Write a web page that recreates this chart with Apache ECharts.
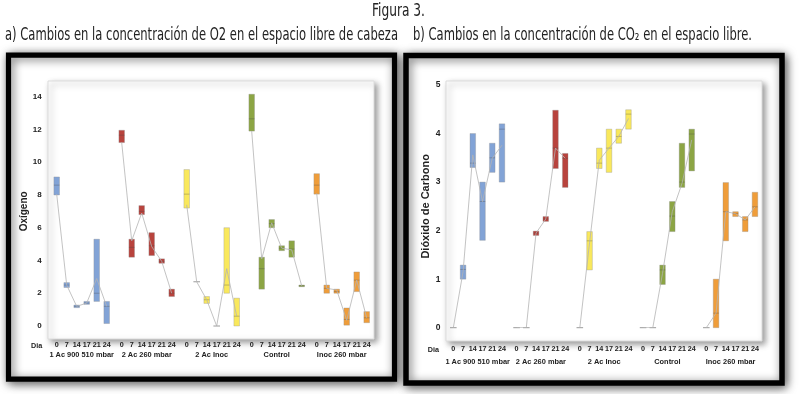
<!DOCTYPE html>
<html><head><meta charset="utf-8">
<script src="https://cdn.jsdelivr.net/npm/echarts@6/dist/echarts.min.js"></script>
<style>html,body{margin:0;padding:0;background:#fff}#c{width:800px;height:394px}</style>
</head><body><div id="c"></div>
<script>
// ---------- data ----------
const days = ['0','7','14','17','21','24'];
const groups = ['1 Ac 900 510 mbar','2 Ac 260 mbar','2 Ac Inoc','Control','Inoc 260 mbar'];
const groupColors = ['#82A3D6','#B8433D','#F9E85C','#8CA544','#EF9D3A'];

// Panel a: Oxígeno (30 values = 5 groups x 6 days)
const o2Low    = [8.0,2.35,1.12,1.32,1.5,0.15,  11.2,4.2,6.8,4.3,3.83,1.8,  7.2,2.7,1.38,0,2.0,0,      11.9,2.25,6.0,4.6,4.2,2.4,  8.05,2.0,2.0,0.05,2.1,0.2];
const o2High   = [9.1,2.65,1.28,1.5,5.3,1.5,   11.95,5.3,7.35,5.7,4.1,2.25, 9.55,2.7,1.8,0,6.0,1.7,    14.15,4.2,6.5,4.9,5.2,2.5,  9.3,2.5,2.25,1.1,3.3,0.88];
const o2Median = [8.6,2.5,1.2,1.4,2.0,1.2,     11.65,4.8,7.0,4.9,3.95,2.0,  8.05,2.7,1.6,0,2.5,0.6,    12.65,3.5,6.25,4.75,4.7,2.45, 8.6,2.3,2.1,0.4,2.8,0.5];
const o2Mean   = [8.05,2.5,1.2,1.4,2.9,1.2,    11.2,5.2,6.9,4.85,3.95,2.0,  7.4,2.7,1.6,0,3.5,0.6,     11.9,4.1,6.3,4.75,4.65,2.45, 8.1,2.3,2.2,0.35,2.8,0.5];

// Panel b: Dióxido de Carbono
const co2Low    = [0,1.0,3.3,1.8,3.2,3.0,   0,0,1.9,2.19,3.28,2.89,  0,1.19,3.28,3.2,3.8,4.09,  0,0,0.89,1.98,2.89,3.23,  0,0,1.79,2.29,1.98,2.29];
const co2High   = [0,1.29,4.0,3.0,3.8,4.2,  0,0,1.99,2.29,4.48,3.59, 0,1.98,3.7,4.09,4.09,4.49, 0,0,1.29,2.6,3.8,4.09,   0,1.0,2.99,2.39,2.29,2.79];
const co2Median = [0,1.2,3.39,2.6,3.5,4.09, 0,0,1.95,2.24,3.7,3.49,  0,1.79,3.39,3.7,3.94,4.4,  0,0,1.19,2.3,3.0,3.99,    0,0.3,2.39,2.35,2.22,2.49];
const co2Mean   = [0,1.15,3.56,2.6,3.49,3.76, 0,0,1.95,2.24,3.7,3.49, 0,1.75,3.45,3.7,3.94,4.31, 0,0,1.12,2.39,2.97,3.87, 0,0.3,2.39,2.35,2.22,2.49];

const titleMain = 'Figura 3.';
const titleA = 'a) Cambios en la concentración de O2 en el espacio libre de cabeza';
const titleB = 'b) Cambios en la concentración de CO\u2082 en el espacio libre.';
const yNameA = 'Oxígeno';
const yNameB = 'Dióxido de Carbono';
const dayAxisName = 'Dia';

// ---------- layout helpers ----------
const GAP = 6.5; // slot step between groups (in day-slot units)
function slotX(g, i) { return g * GAP + i; }
const dayLabelAt = {}, groupLabelAt = {};
groups.forEach((gn, g) => {
  days.forEach((d, i) => { dayLabelAt[Math.round(slotX(g, i) * 2)] = d; });
  groupLabelAt[Math.round((slotX(g, 0) + slotX(g, days.length - 1)) / 2 * 2)] = gn;
});

const NARROW = "'Liberation Sans Narrow','DejaVu Sans Condensed',sans-serif";
const SANS = "'Liberation Sans',Arial,sans-serif";
const measureCtx = document.createElement('canvas').getContext('2d');
function fitScale(text, font, target) {
  measureCtx.font = font;
  return target / measureCtx.measureText(text).width;
}

function boxRenderer(color) {
  return function (params, api) {
    const x = api.value(0), lo = api.value(1), hi = api.value(2), md = api.value(3);
    const pLo = api.coord([x, lo]), pHi = api.coord([x, hi]), pMd = api.coord([x, md]);
    const w = 5.6;
    const ch = [];
    if (Math.abs(pLo[1] - pHi[1]) < 1.2) {
      ch.push({type: 'line', shape: {x1: pLo[0] - w / 2 - 0.5, y1: (pLo[1] + pHi[1]) / 2, x2: pLo[0] + w / 2 + 0.5, y2: (pLo[1] + pHi[1]) / 2},
               style: {stroke: '#9a9a9a', lineWidth: 1}});
    } else {
      ch.push({type: 'rect', shape: {x: pHi[0] - w / 2, y: pHi[1], width: w, height: pLo[1] - pHi[1]},
               style: {fill: color, stroke: 'rgba(140,140,140,0.55)', lineWidth: 0.6}});
      ch.push({type: 'line', shape: {x1: pMd[0] - w / 2, y1: pMd[1], x2: pMd[0] + w / 2, y2: pMd[1]},
               style: {stroke: 'rgba(70,70,70,0.45)', lineWidth: 0.7}});
    }
    return {type: 'group', children: ch};
  };
}

function buildSeries(panel, low, high, med, mean) {
  const out = [];
  groups.forEach((gn, g) => {
    const boxData = [], meanData = [];
    days.forEach((d, i) => {
      const k = g * days.length + i;
      boxData.push([slotX(g, i), low[k], high[k], med[k]]);
      meanData.push([slotX(g, i), mean[k]]);
    });
    out.push({type: 'custom', xAxisIndex: panel * 2, yAxisIndex: panel, z: 3,
              renderItem: boxRenderer(groupColors[g]), data: boxData, encode: {x: 0, y: [1, 2]}});
    out.push({type: 'line', xAxisIndex: panel * 2, yAxisIndex: panel, z: 4, symbol: 'none', silent: true,
              lineStyle: {color: '#b4b4b4', width: 0.8}, data: meanData});
  });
  return out;
}

function xAxes(gridIndex, dayMargin, groupMargin) {
  const base = {type: 'value', gridIndex, position: 'bottom', offset: 0, min: -1, max: 32, interval: 0.5,
    axisLine: {show: false}, axisTick: {show: false}, splitLine: {show: false}};
  return [
    Object.assign({}, base, {axisLabel: {margin: dayMargin, fontFamily: SANS, fontWeight: 'bold', fontSize: 7.2, color: '#222',
      formatter: v => dayLabelAt[Math.round(v * 2)] || ''}}),
    Object.assign({}, base, {axisLabel: {margin: groupMargin, fontFamily: SANS, fontWeight: 'bold', fontSize: 7.4, color: '#222',
      formatter: v => groupLabelAt[Math.round(v * 2)] || ''}})
  ];
}

const FA = {l: 46.7, t: 96.7, w: 330, h: 229.3};
const FB = {l: 443.6, t: 85, w: 321.1, h: 242.7};

const fontTitle = "17px " + NARROW;
const option = {
  animation: false,
  backgroundColor: '#fff',
  grid: [
    {left: FA.l, top: FA.t, width: FA.w, height: FA.h, outerBoundsMode: 'none', containLabel: false},
    {left: FB.l, top: FB.t, width: FB.w, height: FB.h, outerBoundsMode: 'none', containLabel: false}
  ],
  xAxis: [].concat(xAxes(0, 16, 25), xAxes(1, 18, 31)),
  yAxis: [
    {type: 'value', gridIndex: 0, min: 0, max: 14, interval: 2, name: yNameA, nameLocation: 'middle', nameGap: 9,
     nameTextStyle: {fontFamily: SANS, fontWeight: 'bold', fontSize: 10, color: '#222'},
     axisLine: {show: false}, axisTick: {show: false}, splitLine: {show: false},
     axisLabel: {margin: 5, fontFamily: SANS, fontWeight: 'bold', fontSize: 8, color: '#222'}},
    {type: 'value', gridIndex: 1, min: 0, max: 5, interval: 1, name: yNameB, nameLocation: 'middle', nameGap: 12,
     nameTextStyle: {fontFamily: SANS, fontWeight: 'bold', fontSize: 11, color: '#222'},
     axisLine: {show: false}, axisTick: {show: false}, splitLine: {show: false},
     axisLabel: {margin: 3, fontFamily: SANS, fontWeight: 'bold', fontSize: 8.5, color: '#222'}}
  ],
  graphic: [
    // panel frames
    {type: 'rect', z: -10, shape: {x: 8.5, y: 55.2, width: 386, height: 324},
     style: {fill: '#fff', stroke: '#000', lineWidth: 5.2, shadowBlur: 10, shadowOffsetX: 2, shadowOffsetY: 2, shadowColor: 'rgba(0,0,0,0.6)'}},
    {type: 'rect', z: -10, shape: {x: 406, y: 55.5, width: 376, height: 327.5},
     style: {fill: '#fff', stroke: '#000', lineWidth: 5.5, shadowBlur: 10, shadowOffsetX: 2, shadowOffsetY: 2, shadowColor: 'rgba(0,0,0,0.6)'}},
    // plot areas
    {type: 'rect', z: -5, shape: {x: 48, y: 81, width: 326, height: 258},
     style: {fill: '#fff', stroke: '#dcdcdc', lineWidth: 1, shadowBlur: 6, shadowOffsetX: 3, shadowOffsetY: 3, shadowColor: 'rgba(0,0,0,0.4)'}},
    {type: 'rect', z: -5, shape: {x: 446, y: 81, width: 316, height: 260},
     style: {fill: '#fff', stroke: '#dcdcdc', lineWidth: 1, shadowBlur: 6, shadowOffsetX: 3, shadowOffsetY: 3, shadowColor: 'rgba(0,0,0,0.4)'}},
    // titles
    {type: 'text', x: 372, y: 12, scaleX: fitScale(titleMain, fontTitle, 53),
     style: {text: titleMain, font: fontTitle, fill: '#222', textVerticalAlign: 'middle'}},
    {type: 'text', x: 5, y: 36, scaleX: fitScale(titleA, fontTitle, 393),
     style: {text: titleA, font: fontTitle, fill: '#222', textVerticalAlign: 'middle'}},
    {type: 'text', x: 413, y: 36, scaleX: fitScale(titleB, fontTitle, 339),
     style: {text: titleB, font: fontTitle, fill: '#222', textVerticalAlign: 'middle'}},
    // "Dia" labels
    {type: 'text', x: 36.7, y: 346, style: {text: dayAxisName, font: "bold 7.2px " + SANS, fill: '#222', textAlign: 'center', textVerticalAlign: 'middle'}},
    {type: 'text', x: 433.3, y: 350, style: {text: dayAxisName, font: "bold 7.2px " + SANS, fill: '#222', textAlign: 'center', textVerticalAlign: 'middle'}}
  ],
  series: [].concat(
    buildSeries(0, o2Low, o2High, o2Median, o2Mean),
    buildSeries(1, co2Low, co2High, co2Median, co2Mean)
  )
};
const chart = echarts.init(document.getElementById('c'), null, {renderer: 'canvas'});
chart.setOption(option);
</script></body></html>
